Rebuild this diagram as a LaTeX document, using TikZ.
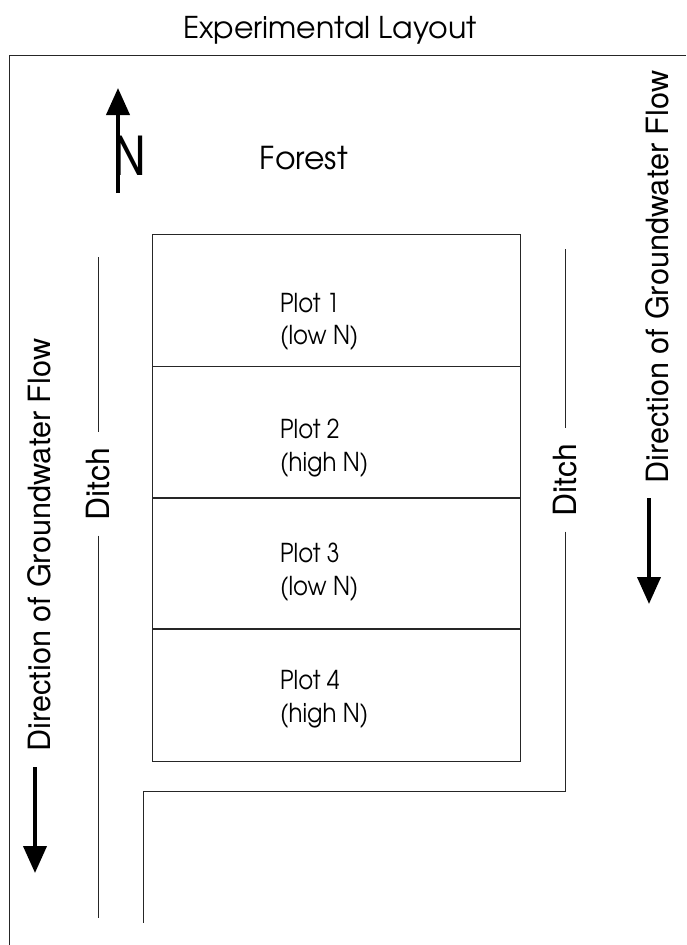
\documentclass[tikz,border=0pt]{standalone}
\usepackage{fontspec}
\setmainfont{TeX Gyre Heros}
\newfontfamily\gothic{texgyreadventor-regular.otf}
\newfontfamily\gothicn[FakeStretch=0.88]{texgyreadventor-regular.otf}
\newfontfamily\narrowf{texgyreheroscn-regular.otf}
\newfontfamily\helv{texgyreheros-regular.otf}
\usetikzlibrary{arrows.meta}
\begin{document}
\begin{tikzpicture}[x=1pt,y=-1pt,
  thinline/.style={line width=0.9pt, draw=black!85},
  plotbox/.style={draw=black!85, line width=0.9pt, minimum width=368pt, minimum height=132pt, inner sep=0pt, anchor=north west},
  plotlabel/.style={font=\gothicn\fontsize{26}{26}\selectfont, anchor=base west, inner sep=0pt},
  flowlabel/.style={font=\helv\fontsize{30.7}{30.7}\selectfont, rotate=90, anchor=base, inner sep=0pt},
  ditchlabel/.style={font=\helv\fontsize{32}{32}\selectfont, rotate=90, inner xsep=15pt, inner ysep=0pt},
  bigarrow/.style={line width=4pt, -{Triangle[width=23pt,length=27pt]}},
]
\useasboundingbox (0,0) rectangle (686,945);

% title and frame
\node[font=\gothic\fontsize{30}{30}\selectfont, anchor=base] (title) at (330,38) {Experimental Layout};
\coordinate (frameR) at (686,55);
\coordinate (frameC) at (9,55);
\coordinate (frameB) at (9,945);
\draw[thinline] (frameR) -- (frameC) -- (frameB);

% north arrow
\coordinate (nbase) at (118,193);
\coordinate (ntip) at (118,88);
\draw[bigarrow] (nbase) -- (ntip);
\node[font=\narrowf\fontsize{55}{55}\selectfont, anchor=base west, inner sep=0pt] (north) at (113,175) {N};

% forest
\node[font=\gothic\fontsize{31.5}{31.5}\selectfont, anchor=base] (forest) at (304,169) {Forest};

% plots
\node[plotbox] (plot1) at (152,234) {};
\node[plotbox] (plot2) at (152,366) {};
\node[plotbox, minimum height=131pt] (plot3) at (152,497) {};
\node[plotbox] (plot4) at (152,629) {};

\node[plotlabel] (p1a) at (280,312) {Plot 1};
\node[plotlabel] (p1b) at (280,344) {(low N)};
\node[plotlabel] (p2a) at (280,438) {Plot 2};
\node[plotlabel] (p2b) at (280,471) {(high N)};
\node[plotlabel] (p3a) at (280,562) {Plot 3};
\node[plotlabel] (p3b) at (280,595) {(low N)};
\node[plotlabel] (p4a) at (280,689) {Plot 4};
\node[plotlabel] (p4b) at (280,722) {(high N)};

% left ditch
\coordinate (ldtop) at (98,257);
\coordinate (ldbot) at (98,918);
\node[ditchlabel] (ditchL) at (98,484) {Ditch};
\draw[thinline] (ldtop) -- (ditchL.east);
\draw[thinline] (ditchL.west) -- (ldbot);

% right ditch and bracket
\coordinate (rdtop) at (565,249);
\coordinate (rdcorner) at (565,791);
\coordinate (bcorner) at (143,791);
\coordinate (bend) at (143,923);
\node[ditchlabel] (ditchR) at (565,480) {Ditch};
\draw[thinline] (rdtop) -- (ditchR.east);
\draw[thinline] (ditchR.west) -- (rdcorner) -- (bcorner) -- (bend);

% groundwater flow
\node[flowlabel] (flowL) at (50,545) {Direction of Groundwater Flow};
\coordinate (flowLs) at (35,767);
\coordinate (flowLt) at (35,873);
\draw[bigarrow] (flowLs) -- (flowLt);

\node[flowlabel] (flowR) at (668,277) {Direction of Groundwater Flow};
\coordinate (flowRs) at (649,498);
\coordinate (flowRt) at (649,604);
\draw[bigarrow] (flowRs) -- (flowRt);
\end{tikzpicture}
\end{document}
